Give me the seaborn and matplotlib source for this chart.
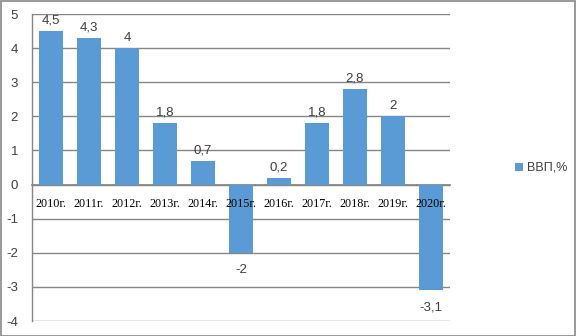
import matplotlib
matplotlib.use("Agg")
import matplotlib.pyplot as plt
import seaborn as sns
import pandas as pd
from matplotlib.patches import Rectangle, Patch

years = ["2010г.", "2011г.", "2012г.", "2013г.", "2014г.", "2015г.", "2016г.",
         "2017г.", "2018г.", "2019г.", "2020г."]
gdp = [4.5, 4.3, 4.0, 1.8, 0.7, -2.0, 0.2, 1.8, 2.8, 2.0, -3.1]
labels = ["4,5", "4,3", "4", "1,8", "0,7", "-2", "0,2", "1,8", "2,8", "2", "-3,1"]
series_name = "ВВП,%"

df = pd.DataFrame({"year": years, "gdp": gdp})

sns.set_theme(style="white")
plt.rcParams['font.family'] = ['Liberation Sans', 'DejaVu Sans']

color = "#5B9BD5"
grid_c = "#868686"

fig = plt.figure(figsize=(5.76, 3.36), dpi=100)
ax = fig.add_axes([32/576, 1-321/336, (450-32)/576, (321-14)/336])

sns.barplot(data=df, x="year", y="gdp", color=color, width=0.63, ax=ax,
            saturation=1, edgecolor="none", zorder=1)

ax.set_ylim(-4, 5)
ax.set_xlim(-0.5, len(years)-0.5)
ax.set_yticks(range(-4, 6))
ax.set_yticklabels([str(v) for v in range(-4, 6)], fontsize=9.5, color="#404040")
ax.set_xlabel("")
ax.set_ylabel("")
ax.set_axisbelow(False)

for y in range(-4, 6):
    ax.axhline(y, color=grid_c, lw=1, zorder=0)

for s in ["top", "right"]:
    ax.spines[s].set_visible(False)
ax.spines["bottom"].set_position(("data", 0))
ax.spines["bottom"].set_color(grid_c)
ax.spines["bottom"].set_zorder(0.5)
ax.spines["left"].set_color(grid_c)
ax.spines["left"].set_linewidth(1)
ax.tick_params(axis="both", length=0)
ax.tick_params(axis="y", pad=10)
ax.tick_params(axis="x", pad=9.5)
for t in ax.get_xticklabels():
    t.set_fontfamily("Liberation Serif")
    t.set_fontsize(8.7)
    t.set_color("#000000")

for i, (v, lab) in enumerate(zip(gdp, labels)):
    if v >= 0:
        ax.annotate(lab, (i, v), xytext=(0, 3), textcoords="offset points",
                    ha="center", va="bottom", fontsize=9.5, color="#404040")
    else:
        ax.annotate(lab, (i, v), xytext=(0, -8), textcoords="offset points",
                    ha="center", va="top", fontsize=9.5, color="#404040")

fig.legend(handles=[Patch(facecolor=color, edgecolor="none", label=series_name)],
           loc="center left", bbox_to_anchor=(515/576, 1-168/336), frameon=False,
           fontsize=9, handlelength=0.6, handleheight=0.6, handletextpad=0.35,
           borderaxespad=0, borderpad=0, labelcolor="#404040")

fig.patches.append(Rectangle((0.5/576, 0.5/336), 1-1.5/576, 1-1.5/336,
                             transform=fig.transFigure, fill=False,
                             edgecolor="#898989", lw=1.2))

fig.savefig("out.png", dpi=100)
